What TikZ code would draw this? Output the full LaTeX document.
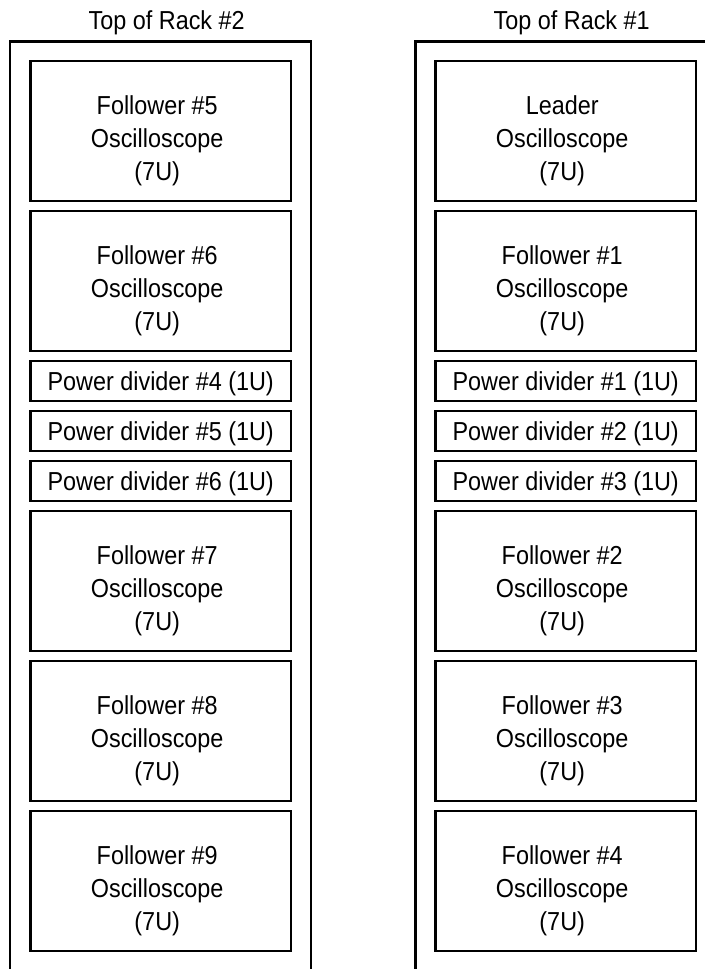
\documentclass[tikz,border=0pt]{standalone}
\usepackage{fontspec}
\setmainfont{Liberation Sans}[FakeStretch=0.9]
\begin{document}
\begin{tikzpicture}[x=1pt,y=1pt,
  rack/.style={line width=2.6pt},
  unitbox/.style={draw, line width=2.6pt, inner sep=0pt, minimum width=260.5pt},
  sevenu/.style={unitbox, minimum height=140pt},
  oneu/.style={unitbox, minimum height=40pt, text height=19pt, text depth=0pt,
    font=\fontsize{26}{33}\selectfont},
  lbl/.style={align=center, inner sep=0pt, font=\fontsize{26}{33}\selectfont},
  title/.style={anchor=base, inner sep=0pt, font=\fontsize{26}{33}\selectfont}]
\useasboundingbox (0,0) rectangle (704,969);
% rack outlines
\draw[rack] (10,-2) -- (10,927.3) -- (311,927.3) -- (311,-2);
\draw[rack] (415.7,-2) -- (415.7,927.3) -- (720,927.3);
% titles
\node[title] (t2) at (166.7,939) {Top of Rack \#2};
\node[title] (t1) at (571.7,939) {Top of Rack \#1};
% rack 2 (left)
\node[sevenu] (f5) at (160.7,838) {};
\node[sevenu] (f6) at (160.7,688) {};
\node[oneu] (p4) at (160.7,588) {Power divider \#4 (1U)};
\node[oneu] (p5) at (160.7,538) {Power divider \#5 (1U)};
\node[oneu] (p6) at (160.7,488) {Power divider \#6 (1U)};
\node[sevenu] (f7) at (160.7,388) {};
\node[sevenu] (f8) at (160.7,238) {};
\node[sevenu] (f9) at (160.7,88) {};
% rack 1 (right)
\node[sevenu] (ld) at (565.7,838) {};
\node[sevenu] (f1) at (565.7,688) {};
\node[oneu] (p1) at (565.7,588) {Power divider \#1 (1U)};
\node[oneu] (p2) at (565.7,538) {Power divider \#2 (1U)};
\node[oneu] (p3) at (565.7,488) {Power divider \#3 (1U)};
\node[sevenu] (f2) at (565.7,388) {};
\node[sevenu] (f3) at (565.7,238) {};
\node[sevenu] (f4) at (565.7,88) {};
% labels of 7U boxes
\node[lbl] (lf5) at ([shift={(-3.5,-10)}]f5.center) {Follower \#5\\Oscilloscope\\(7U)};
\node[lbl] (lf6) at ([shift={(-3.5,-10)}]f6.center) {Follower \#6\\Oscilloscope\\(7U)};
\node[lbl] (lf7) at ([shift={(-3.5,-10)}]f7.center) {Follower \#7\\Oscilloscope\\(7U)};
\node[lbl] (lf8) at ([shift={(-3.5,-10)}]f8.center) {Follower \#8\\Oscilloscope\\(7U)};
\node[lbl] (lf9) at ([shift={(-3.5,-10)}]f9.center) {Follower \#9\\Oscilloscope\\(7U)};
\node[lbl] (lld) at ([shift={(-3.5,-10)}]ld.center) {Leader\\Oscilloscope\\(7U)};
\node[lbl] (lf1) at ([shift={(-3.5,-10)}]f1.center) {Follower \#1\\Oscilloscope\\(7U)};
\node[lbl] (lf2) at ([shift={(-3.5,-10)}]f2.center) {Follower \#2\\Oscilloscope\\(7U)};
\node[lbl] (lf3) at ([shift={(-3.5,-10)}]f3.center) {Follower \#3\\Oscilloscope\\(7U)};
\node[lbl] (lf4) at ([shift={(-3.5,-10)}]f4.center) {Follower \#4\\Oscilloscope\\(7U)};
\end{tikzpicture}
\end{document}
